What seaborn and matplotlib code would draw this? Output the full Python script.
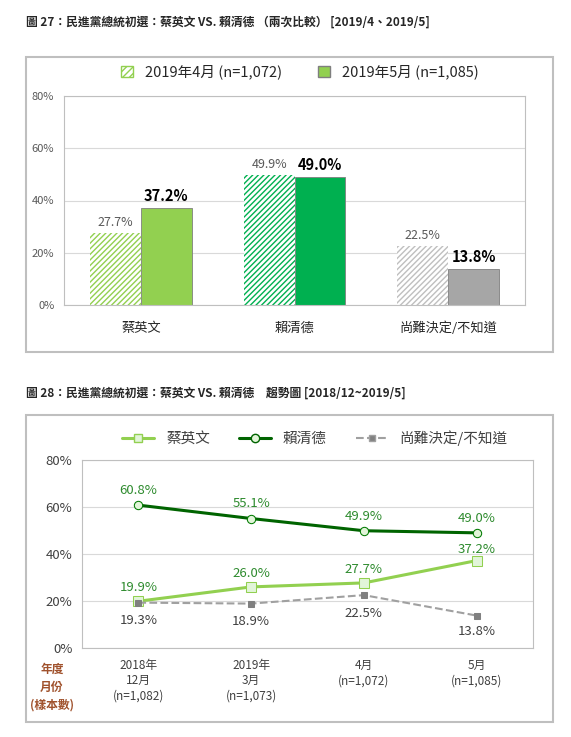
import matplotlib
matplotlib.use("Agg")
import matplotlib.pyplot as plt
import seaborn as sns
import pandas as pd
from matplotlib.patches import Rectangle, Patch
from matplotlib.lines import Line2D

sns.set_style("white")
plt.rcParams['font.family'] = ['Noto Sans CJK TC', 'DejaVu Sans']

bar_cats = ["蔡英文", "賴清德", "尚難決定/不知道"]
apr_vals = [27.7, 49.9, 22.5]
may_vals = [37.2, 49.0, 13.8]
apr_label = "2019年4月 (n=1,072)"
may_label = "2019年5月 (n=1,085)"

line_x = ["2018年\n12月\n(n=1,082)", "2019年\n3月\n(n=1,073)", "4月\n(n=1,072)", "5月\n(n=1,085)"]
tsai = [19.9, 26.0, 27.7, 37.2]
lai = [60.8, 55.1, 49.9, 49.0]
undec = [19.3, 18.9, 22.5, 13.8]

W, H = 571, 737
fig = plt.figure(figsize=(W/100, H/100), dpi=100)

def fx(x): return x / W
def fy(y): return 1 - y / H

fig.text(fx(26), fy(22), "圖 27：民進黨總統初選：蔡英文 VS. 賴清德 （兩次比較） [2019/4、2019/5]",
         fontsize=8.5, fontweight='bold', va='center')
fig.text(fx(26), fy(393), "圖 28：民進黨總統初選：蔡英文 VS. 賴清德　趨勢圖 [2018/12~2019/5]",
         fontsize=8.5, fontweight='bold', va='center')

for (x0, y0, x1, y1) in [(26, 57, 553, 352), (26, 415, 553, 722)]:
    fig.patches.append(Rectangle((fx(x0), fy(y1)), fx(x1 - x0), (y1 - y0) / H,
                                 transform=fig.transFigure, fill=False,
                                 edgecolor='#bfbfbf', linewidth=1.5))

# ---- Bar chart ----
ax1 = fig.add_axes([fx(64), fy(305), fx(525 - 64), (305 - 96) / H])
df = pd.DataFrame({"cat": bar_cats * 2, "val": apr_vals + may_vals,
                   "per": [apr_label] * 3 + [may_label] * 3})
sns.barplot(data=df, x="cat", y="val", hue="per", ax=ax1, width=0.66, legend=False)
fills_light = ['#d7f0b8', '#b9ecc9', '#e6e6e6']
fills = ['#92D050', '#00B050', '#A6A6A6']
hatch_cols = ['#92D050', '#00B050', '#bfbfbf']
pats = ax1.patches
for i in range(3):
    p = pats[i]
    p.set_facecolor('white'); p.set_hatch('//////'); p.set_edgecolor(hatch_cols[i]); p.set_linewidth(0)
    q = pats[3 + i]
    q.set_facecolor(fills[i]); q.set_edgecolor('#7f7f7f'); q.set_linewidth(0.6)
    ax1.text(p.get_x() + p.get_width() / 2, apr_vals[i] + 1.5, f"{apr_vals[i]}%", ha='center',
             va='bottom', fontsize=9, style='italic', color='#595959')
    ax1.text(q.get_x() + q.get_width() / 2, may_vals[i] + 1.5, f"{may_vals[i]}%", ha='center',
             va='bottom', fontsize=10.5, fontweight='bold', color='black')
plt.rcParams['hatch.linewidth'] = 1.0
ax1.set_ylim(0, 80)
ax1.set_yticks([0, 20, 40, 60, 80])
ax1.set_yticklabels([f"{v}%" for v in [0, 20, 40, 60, 80]], fontsize=8, color='#595959')
ax1.set_xlabel(""); ax1.set_ylabel("")
ax1.tick_params(axis='x', labelsize=9.5, pad=12, length=0)
ax1.grid(axis='y', color='#d9d9d9', linewidth=0.8)
ax1.set_axisbelow(True)
for s in ax1.spines.values():
    s.set_color('#bfbfbf')
handles = [Patch(facecolor='white', hatch='/////', edgecolor='#92D050', label=apr_label),
           Patch(facecolor='#92D050', edgecolor='#7f7f7f', label=may_label)]
fig.legend(handles=handles, loc='center', bbox_to_anchor=(fx(300), fy(72)), ncol=2,
           frameon=False, fontsize=10.5, handlelength=0.8, handleheight=0.8, columnspacing=2.5)

# ---- Line chart ----
ax2 = fig.add_axes([fx(82), fy(648), fx(533 - 82), (648 - 460) / H])
xs = list(range(4))
sns.lineplot(x=xs, y=lai, ax=ax2, color='#006400', linewidth=2.2, marker='o', markersize=6,
             markerfacecolor='#e2f5d9', markeredgecolor='#007a00')
sns.lineplot(x=xs, y=tsai, ax=ax2, color='#92D050', linewidth=2.2, marker='s', markersize=7,
             markerfacecolor='#e2f5d9', markeredgecolor='#92D050')
sns.lineplot(x=xs, y=undec, ax=ax2, color='#a0a0a0', linewidth=1.5, linestyle='--', marker='s',
             markersize=5, markerfacecolor='#808080', markeredgecolor='#808080')
for i in xs:
    ax2.text(i, lai[i] + 3.5, f"{lai[i]}%", ha='center', va='bottom', fontsize=9.5, color='#2e8b2e')
    dy = 3 if i < 3 else 2
    ax2.text(i, tsai[i] + dy, f"{tsai[i]}%", ha='center', va='bottom', fontsize=9.5, color='#2e8b2e')
    off = -5 if i != 3 else -4
    ax2.text(i, undec[i] + off, f"{undec[i]}%", ha='center', va='top', fontsize=9.5, color='#404040')
ax2.set_xlim(-0.5, 3.5)
ax2.set_ylim(0, 80)
ax2.set_yticks([0, 20, 40, 60, 80])
ax2.set_yticklabels([f"{v}%" for v in [0, 20, 40, 60, 80]], fontsize=9.5, color='#404040')
ax2.set_xticks(xs)
ax2.set_xticklabels(line_x, fontsize=8.5, color='#404040', va='top')
ax2.tick_params(axis='x', length=0, pad=8)
ax2.grid(axis='y', color='#d9d9d9', linewidth=0.8)
for s in ax2.spines.values():
    s.set_color('#bfbfbf')
fig.text(fx(52), fy(687), "年度\n月份\n(樣本數)", ha='center', va='center', fontsize=8.5,
         color='#a0522d', fontweight='bold', linespacing=1.5)
lh = [Line2D([], [], color='#92D050', lw=2.2, marker='s', markerfacecolor='#e2f5d9', markersize=6, label='蔡英文'),
      Line2D([], [], color='#006400', lw=2.2, marker='o', markerfacecolor='#e2f5d9', markersize=6, label='賴清德'),
      Line2D([], [], color='#a0a0a0', lw=1.5, ls='--', marker='s', markerfacecolor='#808080', markersize=4, label='尚難決定/不知道')]
fig.legend(handles=lh, loc='center', bbox_to_anchor=(fx(315), fy(438)), ncol=3, frameon=False,
           fontsize=10.5, labelcolor='#404040', handlelength=2.2, columnspacing=2.0)

fig.savefig("out.png", dpi=100, facecolor='white')
